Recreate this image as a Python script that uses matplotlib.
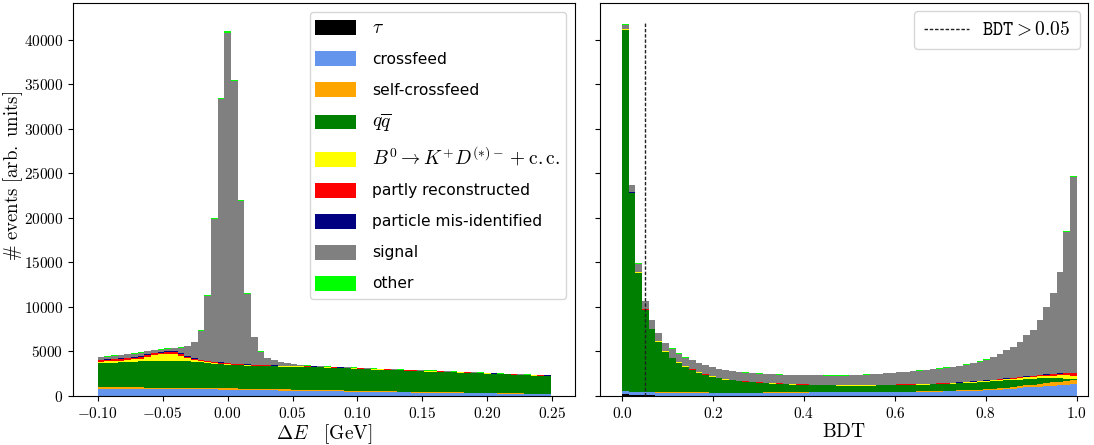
import numpy as np
import matplotlib
matplotlib.use('Agg')
import matplotlib.pyplot as plt
from matplotlib.ticker import FuncFormatter, MultipleLocator
from matplotlib.legend_handler import HandlerPatch
from matplotlib.patches import Rectangle, Polygon

plt.rcParams['mathtext.fontset'] = 'cm'
plt.rcParams['font.family'] = ['DejaVu Sans']

# ---------------- categories ----------------
labels = [r'$\tau$', 'crossfeed', 'self-crossfeed', r'$q\overline{q}$',
          r'$B^0 \to K^{+}D^{(*)-} + \mathrm{c.c.}$', 'partly reconstructed',
          'particle mis-identified', 'signal', 'other']
colors = ['black', 'cornflowerblue', 'orange', 'green', 'yellow', 'red',
          'navy', 'gray', 'lime']

# ---------------- Delta E histogram (68 bins) ----------------
de_start = -0.1
de_width = 0.1 / 19.5
de_nbins = 68

de_tau = [5, 6, 5, 5, 6, 5, 5, 6, 5, 5, 6, 5, 5, 5, 6, 5, 5, 6, 5, 5,
          5, 6, 5, 5, 5, 5, 6, 5, 5, 5, 5, 5, 4, 5, 5, 4, 5, 5, 4, 5,
          4, 5, 4, 4, 5, 4, 4, 4, 5, 4, 4, 4, 4, 4, 3, 4, 4, 3, 4, 3,
          3, 4, 3, 3, 3, 3, 3, 3]
de_crossfeed = [820, 815, 810, 805, 800, 795, 790, 786, 780, 776,
                770, 765, 760, 755, 748, 740, 735, 725, 715, 705,
                695, 685, 673, 660, 650, 638, 625, 612, 600, 588,
                575, 562, 550, 538, 525, 513, 500, 488, 475, 462,
                450, 441, 432, 423, 414, 405, 396, 387, 378, 369,
                360, 351, 342, 333, 324, 315, 306, 297, 288, 279,
                270, 261, 252, 243, 234, 225, 218, 210]
de_selfcf = [170, 168, 170, 165, 165, 162, 160, 160, 158, 158,
             155, 155, 152, 150, 150, 148, 148, 146, 145, 143,
             142, 140, 140, 138, 136, 135, 133, 132, 130, 128,
             126, 124, 122, 120, 118, 116, 114, 112, 110, 108,
             106, 104, 102, 100, 97, 95, 93, 90, 88, 85,
             82, 80, 77, 74, 72, 69, 66, 63, 60, 57,
             54, 51, 48, 45, 42, 39, 36, 33]
de_qqbar = [2710, 2740, 2770, 2800, 2830, 2890, 2920, 2950, 2980, 2990,
            3020, 3010, 3000, 2980, 2930, 2880, 2820, 2760, 2700, 2660,
            2620, 2600, 2580, 2570, 2560, 2560, 2560, 2560, 2560, 2560,
            2570, 2560, 2550, 2540, 2530, 2520, 2500, 2490, 2480, 2460,
            2440, 2420, 2410, 2390, 2380, 2360, 2340, 2330, 2310, 2290,
            2300, 2270, 2260, 2240, 2220, 2210, 2190, 2170, 2160, 2140,
            2120, 2100, 2080, 2060, 2050, 2030, 2010, 2000]
de_b0kd = [150, 160, 180, 200, 230, 260, 300, 500, 650, 750,
           800, 780, 600, 350, 200, 120, 90, 70, 60, 55,
           50, 45, 45, 40, 40, 40, 38, 38, 36, 36,
           35, 35, 34, 34, 33, 33, 32, 32, 31, 31,
           30, 30, 29, 29, 28, 28, 27, 27, 26, 26,
           25, 25, 24, 24, 23, 23, 22, 22, 21, 21,
           20, 20, 20, 20, 20, 20, 20, 20]
de_partly = [180, 180, 185, 185, 190, 190, 195, 195, 200, 200,
             200, 195, 190, 170, 150, 130, 110, 100, 90, 80,
             70, 65, 60, 55, 50, 45, 40, 40, 38, 36,
             35, 35, 34, 34, 33, 33, 32, 32, 31, 31,
             30, 30, 29, 29, 28, 28, 27, 27, 26, 26,
             25, 25, 24, 24, 23, 23, 22, 22, 21, 21,
             20, 20, 20, 20, 20, 20, 20, 20]
de_misid = [50, 50, 55, 55, 60, 60, 70, 80, 90, 100,
            100, 100, 100, 90, 80, 70, 60, 50, 45, 40,
            40, 35, 35, 30, 30, 30, 30, 28, 28, 26,
            26, 25, 25, 25, 24, 24, 24, 23, 23, 23,
            22, 22, 22, 21, 21, 21, 20, 20, 20, 19,
            19, 19, 18, 18, 18, 17, 17, 17, 16, 16,
            16, 16, 15, 15, 15, 15, 15, 15]
de_signal = [275, 292, 335, 395, 400, 398, 420, 334, 247, 231,
             260, 350, 603, 1110, 1787, 3247, 7302, 15994, 29540, 37082,
             31728, 18315, 7902, 3082, 1470, 800, 569, 345, 263, 181,
             88, 60, 45, 35, 30, 25, 20, 20, 20, 20,
             20, 20, 20, 20, 20, 20, 15, 15, 15, 15,
             15, 15, 15, 15, 14, 14, 13, 13, 12, 12,
             12, 11, 11, 11, 10, 10, 10, 10]
de_other = [40, 40, 40, 40, 40, 40, 40, 40, 40, 40,
            40, 40, 40, 40, 50, 60, 80, 120, 150, 160,
            150, 130, 100, 80, 60, 50, 45, 40, 40, 40,
            40, 40, 39, 39, 39, 39, 38, 38, 38, 38,
            37, 37, 37, 36, 36, 36, 35, 35, 35, 35,
            34, 34, 34, 33, 33, 33, 32, 32, 32, 32,
            31, 31, 31, 30, 30, 30, 30, 30]

# ---------------- BDT histogram (68 bins on [0, 1]) ----------------
bdt_nbins = 68
bdt_cut = 0.05

bdt_tau = [250, 150, 100, 80, 60, 50, 45, 40, 35, 30,
           30, 25, 25, 20, 20, 20, 15, 15, 15, 15,
           15, 15, 15, 15, 15, 15, 10, 10, 10, 10,
           10, 10, 10, 10, 10, 10, 10, 10, 10, 10,
           10, 10, 10, 10, 10, 10, 10, 10, 10, 10,
           10, 10, 10, 10, 10, 10, 10, 10, 10, 10,
           10, 10, 10, 10, 10, 10, 10, 10]
bdt_crossfeed = [300, 320, 330, 340, 340, 340, 340, 340, 340, 340,
                 340, 340, 340, 340, 340, 340, 340, 340, 340, 340,
                 340, 350, 355, 360, 365, 370, 375, 380, 385, 390,
                 400, 403, 406, 410, 413, 416, 420, 423, 426, 430,
                 433, 436, 440, 443, 446, 450, 460, 480, 500, 520,
                 540, 560, 580, 600, 625, 650, 700, 760, 820, 880,
                 950, 1000, 1050, 1100, 1150, 1200, 1250, 1300]
bdt_selfcf = [30, 30, 30, 30, 30, 30, 30, 30, 30, 30,
              30, 30, 30, 30, 30, 30, 30, 30, 30, 30,
              30, 30, 30, 30, 30, 30, 30, 30, 30, 30,
              30, 30, 30, 30, 30, 30, 30, 30, 30, 30,
              30, 40, 43, 46, 50, 53, 56, 60, 63, 66,
              70, 80, 90, 100, 110, 120, 140, 160, 180, 200,
              220, 250, 280, 320, 360, 400, 450, 500]
bdt_qqbar = [40520, 22270, 13390, 9210, 7060, 5680, 4565, 3820, 3340, 2900,
             2520, 2225, 1965, 1780, 1600, 1460, 1365, 1275, 1205, 1145,
             1095, 1035, 990, 945, 910, 875, 845, 820, 795, 770,
             750, 737, 724, 710, 707, 704, 700, 707, 714, 720,
             727, 724, 727, 741, 754, 767, 774, 770, 777, 784,
             800, 810, 820, 840, 855, 870, 850, 820, 790, 760,
             720, 680, 640, 570, 500, 390, 240, 90]
bdt_b0kd = [30, 30, 30, 30, 30, 30, 30, 30, 30, 30,
            30, 30, 30, 30, 30, 30, 30, 30, 30, 30,
            30, 30, 30, 30, 30, 30, 30, 30, 30, 30,
            30, 40, 40, 40, 40, 40, 40, 40, 40, 40,
            40, 50, 50, 50, 50, 50, 50, 50, 50, 50,
            50, 70, 75, 85, 90, 100, 110, 125, 140, 160,
            180, 200, 230, 260, 280, 320, 360, 400]
bdt_partly = [25, 25, 25, 25, 25, 25, 25, 25, 25, 25,
              25, 25, 25, 25, 25, 25, 25, 25, 25, 25,
              25, 25, 25, 25, 25, 25, 25, 25, 25, 25,
              25, 25, 25, 25, 25, 25, 25, 25, 25, 25,
              25, 35, 35, 35, 35, 35, 35, 35, 35, 35,
              35, 40, 42, 45, 48, 50, 60, 65, 70, 80,
              90, 100, 110, 130, 150, 180, 220, 250]
bdt_misid = [15, 15, 15, 15, 15, 15, 15, 15, 15, 15,
             15, 15, 15, 15, 15, 15, 15, 15, 15, 15,
             15, 15, 15, 15, 15, 15, 15, 15, 15, 15,
             15, 15, 15, 15, 15, 15, 15, 15, 15, 15,
             15, 15, 15, 15, 15, 15, 15, 15, 15, 15,
             15, 20, 20, 20, 20, 20, 20, 25, 25, 25,
             25, 30, 30, 30, 35, 35, 40, 40]
bdt_signal = [440, 800, 940, 900, 950, 900, 905, 1025, 940, 935,
              1020, 1020, 1015, 1025, 975, 965, 965, 965, 955, 955,
              955, 965, 965, 975, 975, 985, 1005, 1015, 1025, 1035,
              1035, 1030, 1040, 1060, 1080, 1110, 1150, 1180, 1220, 1260,
              1310, 1335, 1385, 1425, 1475, 1525, 1585, 1645, 1715, 1785,
              1865, 1930, 2043, 2160, 2317, 2535, 2810, 3155, 3450, 3930,
              4595, 5090, 6125, 7540, 9050, 11355, 15880, 21950]
bdt_other = [80, 60, 40, 35, 35, 35, 35, 35, 35, 35,
             35, 35, 35, 35, 35, 35, 35, 35, 35, 35,
             35, 35, 35, 35, 35, 35, 35, 35, 35, 35,
             35, 30, 30, 30, 30, 30, 30, 30, 30, 30,
             30, 35, 35, 35, 35, 35, 35, 35, 35, 35,
             35, 40, 40, 40, 45, 45, 50, 50, 55, 55,
             60, 60, 65, 70, 75, 80, 90, 100]

de_series = [de_tau, de_crossfeed, de_selfcf, de_qqbar, de_b0kd,
             de_partly, de_misid, de_signal, de_other]
bdt_series = [bdt_tau, bdt_crossfeed, bdt_selfcf, bdt_qqbar, bdt_b0kd,
              bdt_partly, bdt_misid, bdt_signal, bdt_other]

de_edges = de_start + de_width * np.arange(de_nbins + 1)
de_centers = 0.5 * (de_edges[:-1] + de_edges[1:])
bdt_edges = np.linspace(0.0, 1.0, bdt_nbins + 1)
bdt_centers = 0.5 * (bdt_edges[:-1] + bdt_edges[1:])

# ---------------- figure ----------------
W, H = 1094, 445
fig = plt.figure(figsize=(W / 100, H / 100), dpi=100)
bot = 1 - 396 / H
hgt = (396 - 3) / H
ax1 = fig.add_axes([73 / W, bot, (575 - 73) / W, hgt])
ax2 = fig.add_axes([600 / W, bot, (1088 - 600) / W, hgt], sharey=ax1)

ax1.hist([de_centers] * len(de_series), bins=de_edges, weights=de_series,
         stacked=True, histtype='stepfilled', color=colors, label=labels,
         linewidth=0.5)
ax2.hist([bdt_centers] * len(bdt_series), bins=bdt_edges, weights=bdt_series,
         stacked=True, histtype='stepfilled', color=colors, linewidth=0.5)

tot_bdt = np.sum(np.array(bdt_series), axis=0)
ax2.vlines(bdt_cut, 0, tot_bdt.max() * 1.005, colors='#222222',
           linestyles=(0, (2.5, 1.3)), linewidth=1.0,
           label=r'$\mathtt{BDT} > 0.05$')

ax1.set_xlim(-0.119, 0.2675)
ax2.set_xlim(-0.0485, 1.0245)
ax1.set_ylim(0, 44100)

ax1.xaxis.set_major_locator(MultipleLocator(0.05))
ax1.yaxis.set_major_locator(MultipleLocator(5000))
ax2.xaxis.set_major_locator(MultipleLocator(0.2))

fmt_de = FuncFormatter(lambda v, p: f'${v:.2f}$')
fmt_y = FuncFormatter(lambda v, p: f'${int(round(v))}$')
fmt_bdt = FuncFormatter(lambda v, p: f'${v:.1f}$')
ax1.xaxis.set_major_formatter(fmt_de)
ax1.yaxis.set_major_formatter(fmt_y)
ax2.xaxis.set_major_formatter(fmt_bdt)

for ax in (ax1, ax2):
    ax.tick_params(labelsize=11)
ax2.tick_params(labelleft=False)

ax1.set_xlabel(r'$\Delta E \quad [\mathrm{GeV}]$', fontsize=14, labelpad=1)
ax1.set_ylabel(r'$\#\ \mathrm{events\ [arb.\ units]}$', fontsize=13.5)
ax1.yaxis.set_label_coords(-0.095, 0.56)
ax2.set_xlabel(r'$\mathrm{BDT}$', fontsize=14, labelpad=1)


def small_rect(legend, orig_handle, xdescent, ydescent, width, height, fontsize):
    h = 0.95 * fontsize
    return Rectangle((-xdescent, -ydescent + (height - h) / 2.0), width, h)


# legend in the same order as the stacking (bottom component first)
handles, labs = ax1.get_legend_handles_labels()
order = [labs.index(l) for l in labels]
leg1 = ax1.legend([handles[k] for k in order], [labs[k] for k in order],
                  loc='upper right', fontsize=11.2, labelspacing=0.74,
                  handlelength=2.6, handleheight=1.55, handletextpad=1.05,
                  borderpad=0.35, borderaxespad=0.6,
                  handler_map={Polygon: HandlerPatch(patch_func=small_rect)})
for t in leg1.get_texts():
    if '$' in t.get_text():
        t.set_fontsize(14)

leg2 = ax2.legend(loc='upper right', fontsize=14, handlelength=2.3,
                  handletextpad=0.7, borderpad=0.5, borderaxespad=0.4)

fig.savefig('out.png', dpi=100)
